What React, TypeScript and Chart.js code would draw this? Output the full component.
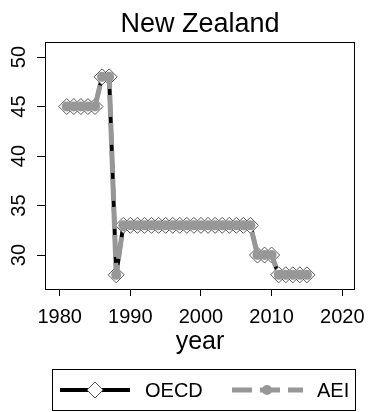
import React, { useEffect, useRef } from "react";
import { Chart, registerables } from "chart.js";

Chart.register(...registerables);

const title = "New Zealand";
const xTitle = "year";
const years = [
  1981, 1982, 1983, 1984, 1985, 1986, 1987, 1988, 1989, 1990, 1991, 1992,
  1993, 1994, 1995, 1996, 1997, 1998, 1999, 2000, 2001, 2002, 2003, 2004,
  2005, 2006, 2007, 2008, 2009, 2010, 2011, 2012, 2013, 2014, 2015,
];
const oecd = [
  45, 45, 45, 45, 45, 48, 48, 28, 33, 33, 33, 33, 33, 33, 33, 33, 33, 33, 33,
  33, 33, 33, 33, 33, 33, 33, 33, 30, 30, 30, 28, 28, 28, 28, 28,
];
const aei = [
  45, 45, 45, 45, 45, 48, 48, 28, 33, 33, 33, 33, 33, 33, 33, 33, 33, 33, 33,
  33, 33, 33, 33, 33, 33, 33, 33, 30, 30, 30, 28, 28, 28, 28, 28,
];
const xTicks = [1980, 1990, 2000, 2010, 2020];
const yTicks = [30, 35, 40, 45, 50];
const seriesNames = ["OECD", "AEI"];

const FONT = "'Liberation Sans', Arial, Helvetica, sans-serif";
const GRAY = "#979797";
const DIAMOND_EDGE = "#555555";

const decorPlugin = {
  id: "decor",
  afterDraw(chart: any) {
    const ctx = chart.ctx;
    const a = chart.chartArea;
    ctx.save();
    // frame
    ctx.strokeStyle = "#000";
    ctx.lineWidth = 1;
    ctx.strokeRect(a.left + 0.5, a.top + 0.5, a.right - a.left - 1, a.bottom - a.top);
    // title
    ctx.fillStyle = "#000";
    ctx.font = `27px ${FONT}`;
    ctx.textAlign = "center";
    ctx.textBaseline = "alphabetic";
    ctx.fillText(title, (a.left + a.right) / 2, 32);
    // y tick labels rotated
    const ys = chart.scales.y;
    ctx.font = `20px ${FONT}`;
    ctx.textBaseline = "middle";
    for (const v of yTicks) {
      const py = ys.getPixelForValue(v);
      ctx.save();
      ctx.translate(a.left - 26, py);
      ctx.rotate(-Math.PI / 2);
      ctx.textAlign = "center";
      ctx.fillText(String(v), 0, 0);
      ctx.restore();
    }
    // legend
    const lx = 52, ly = 369, lw = 304, lh = 42;
    ctx.strokeStyle = "#000";
    ctx.lineWidth = 1;
    ctx.strokeRect(lx + 0.5, ly + 0.5, lw - 1, lh - 1);
    const cy = ly + lh / 2;
    // OECD
    ctx.strokeStyle = "#000";
    ctx.lineWidth = 4;
    ctx.beginPath();
    ctx.moveTo(60, cy);
    ctx.lineTo(130, cy);
    ctx.stroke();
    ctx.fillStyle = "#fff";
    ctx.strokeStyle = DIAMOND_EDGE;
    ctx.lineWidth = 1;
    ctx.beginPath();
    ctx.moveTo(95 - 8, cy);
    ctx.lineTo(95, cy - 8);
    ctx.lineTo(95 + 8, cy);
    ctx.lineTo(95, cy + 8);
    ctx.closePath();
    ctx.fill();
    ctx.stroke();
    ctx.fillStyle = "#000";
    ctx.font = `20px ${FONT}`;
    ctx.textAlign = "left";
    ctx.textBaseline = "middle";
    ctx.fillText(seriesNames[0], 145, cy + 1);
    // AEI
    ctx.strokeStyle = GRAY;
    ctx.lineWidth = 5;
    ctx.setLineDash([20, 8]);
    ctx.beginPath();
    ctx.moveTo(232, cy);
    ctx.lineTo(303, cy);
    ctx.stroke();
    ctx.setLineDash([]);
    ctx.fillStyle = GRAY;
    ctx.beginPath();
    ctx.arc(267, cy, 5, 0, Math.PI * 2);
    ctx.fill();
    ctx.fillStyle = "#000";
    ctx.fillText(seriesNames[1], 317, cy + 1);
    ctx.restore();
  },
};

export default function App() {
  const ref = useRef<HTMLCanvasElement | null>(null);
  useEffect(() => {
    document.body.style.margin = "0";
    const canvas = ref.current;
    if (!canvas) return;
    const chart = new Chart(canvas, {
      type: "line",
      data: {
        datasets: [
          {
            label: seriesNames[0],
            data: years.map((y, i) => ({ x: y, y: oecd[i] })),
            borderColor: "#000",
            borderWidth: 4,
            pointStyle: "rectRot",
            pointRadius: 8,
            pointBackgroundColor: "#fff",
            pointBorderColor: DIAMOND_EDGE,
            pointBorderWidth: 1,
            tension: 0,
            order: 2,
          },
          {
            label: seriesNames[1],
            data: years.map((y, i) => ({ x: y, y: aei[i] })),
            borderColor: GRAY,
            borderWidth: 5,
            borderDash: [22, 6],
            pointStyle: "circle",
            pointRadius: 5,
            pointBackgroundColor: GRAY,
            pointBorderColor: GRAY,
            pointBorderWidth: 0,
            tension: 0,
            order: 1,
          },
        ],
      },
      options: {
        animation: false,
        responsive: false,
        devicePixelRatio: 1,
        layout: { padding: { top: 42, right: 12, bottom: 55, left: 0 } },
        plugins: {
          legend: { display: false },
          title: { display: false },
          tooltip: { enabled: false },
        },
        scales: {
          x: {
            type: "linear",
            min: 1977.92,
            max: 2021.8,
            afterBuildTicks: (s: any) => {
              s.ticks = xTicks.map((v) => ({ value: v }));
            },
            ticks: {
              color: "#000",
              font: { size: 20, family: FONT },
              maxRotation: 0,
              minRotation: 0,
              padding: 9,
              callback: (v: any) => String(v),
            },
            grid: {
              display: true,
              drawOnChartArea: false,
              drawTicks: true,
              tickLength: 7,
              color: "#000",
            },
            border: { display: false },
            title: {
              display: true,
              text: xTitle,
              color: "#000",
              font: { size: 25, family: FONT },
              padding: 0,
            },
            afterFit: (s: any) => {
              s.height = 68;
            },
          },
          y: {
            type: "linear",
            min: 26.57,
            max: 51.52,
            afterBuildTicks: (s: any) => {
              s.ticks = yTicks.map((v) => ({ value: v }));
            },
            ticks: { display: false },
            grid: {
              display: true,
              drawOnChartArea: false,
              drawTicks: true,
              tickLength: 8,
              color: "#000",
            },
            border: { display: false },
            afterFit: (s: any) => {
              s.width = 45;
            },
          },
        },
      },
      plugins: [decorPlugin],
    } as any);
    return () => chart.destroy();
  }, []);
  return (
    <div style={{ width: 374, height: 412 }}>
      <canvas ref={ref} width={374} height={412} style={{ display: "block" }} />
    </div>
  );
}
